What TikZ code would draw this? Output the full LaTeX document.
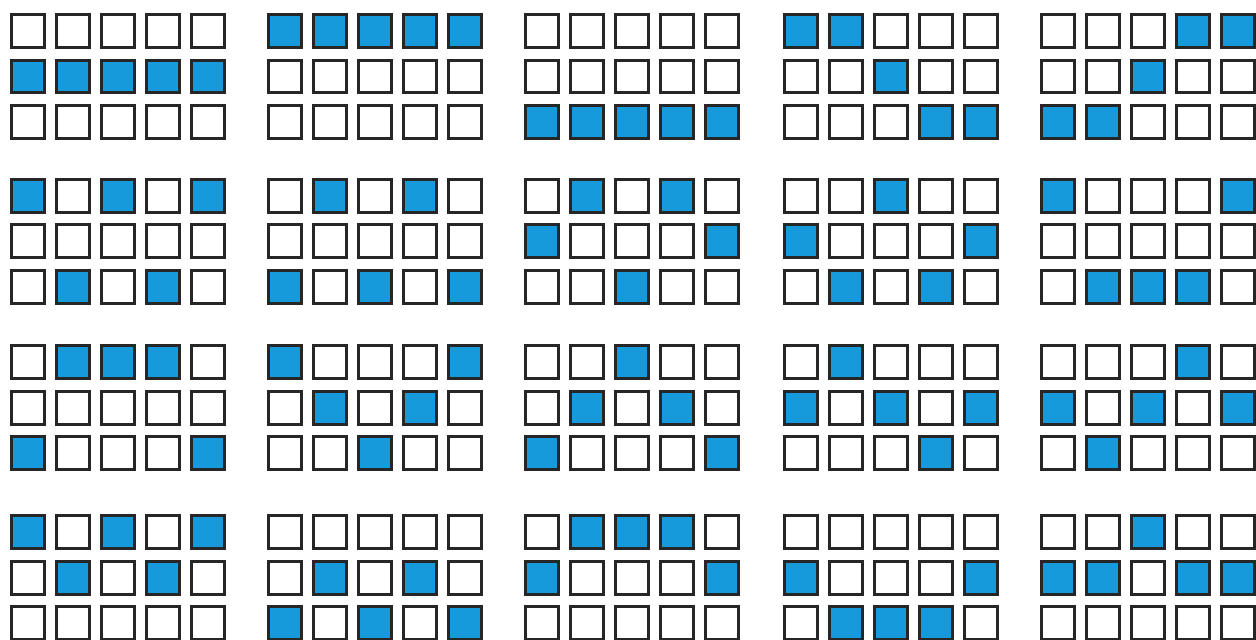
\documentclass[tikz,border=0pt]{standalone}
\usepackage{xcolor}
\definecolor{patblue}{RGB}{22,154,220}
\colorlet{pat0}{white}
\colorlet{pat1}{patblue}
\tikzset{cell/.style={rectangle,draw=black!85,line width=0.06cm,minimum size=0.66cm,inner sep=0pt}}
% one block of 3x5 cells: name, left, top, rows
\newcommand{\patblock}[6]{%
  \foreach \rowlist [count=\r from 0] in {{#4},{#5},{#6}}{
    \foreach \v [count=\c from 0] in \rowlist
      \node[cell,fill=pat\v] (#1-\r\c) at ({#2+18+45*\c},{#3+18+45.5*\r}) {};
  }}

\begin{document}
\begin{tikzpicture}[x=0.02cm,y=-0.02cm]
\fill[white] (0,0) rectangle (1256,639);
\useasboundingbox (0,0) rectangle (1256,639);
% first row
\patblock{a1}{10}{13}{0,0,0,0,0}{1,1,1,1,1}{0,0,0,0,0}
\patblock{a2}{267}{13}{1,1,1,1,1}{0,0,0,0,0}{0,0,0,0,0}
\patblock{a3}{524}{13}{0,0,0,0,0}{0,0,0,0,0}{1,1,1,1,1}
\patblock{a4}{783}{13}{1,1,0,0,0}{0,0,1,0,0}{0,0,0,1,1}
\patblock{a5}{1040}{13}{0,0,0,1,1}{0,0,1,0,0}{1,1,0,0,0}
% second row
\patblock{b1}{10}{177.5}{1,0,1,0,1}{0,0,0,0,0}{0,1,0,1,0}
\patblock{b2}{267}{177.5}{0,1,0,1,0}{0,0,0,0,0}{1,0,1,0,1}
\patblock{b3}{524}{177.5}{0,1,0,1,0}{1,0,0,0,1}{0,0,1,0,0}
\patblock{b4}{783}{177.5}{0,0,1,0,0}{1,0,0,0,1}{0,1,0,1,0}
\patblock{b5}{1040}{177.5}{1,0,0,0,1}{0,0,0,0,0}{0,1,1,1,0}
% third row
\patblock{c1}{10}{344}{0,1,1,1,0}{0,0,0,0,0}{1,0,0,0,1}
\patblock{c2}{267}{344}{1,0,0,0,1}{0,1,0,1,0}{0,0,1,0,0}
\patblock{c3}{524}{344}{0,0,1,0,0}{0,1,0,1,0}{1,0,0,0,1}
\patblock{c4}{783}{344}{0,1,0,0,0}{1,0,1,0,1}{0,0,0,1,0}
\patblock{c5}{1040}{344}{0,0,0,1,0}{1,0,1,0,1}{0,1,0,0,0}
% fourth row
\patblock{d1}{10}{514}{1,0,1,0,1}{0,1,0,1,0}{0,0,0,0,0}
\patblock{d2}{267}{514}{0,0,0,0,0}{0,1,0,1,0}{1,0,1,0,1}
\patblock{d3}{524}{514}{0,1,1,1,0}{1,0,0,0,1}{0,0,0,0,0}
\patblock{d4}{783}{514}{0,0,0,0,0}{1,0,0,0,1}{0,1,1,1,0}
\patblock{d5}{1040}{514}{0,0,1,0,0}{1,1,0,1,1}{0,0,0,0,0}
\end{tikzpicture}
\end{document}
